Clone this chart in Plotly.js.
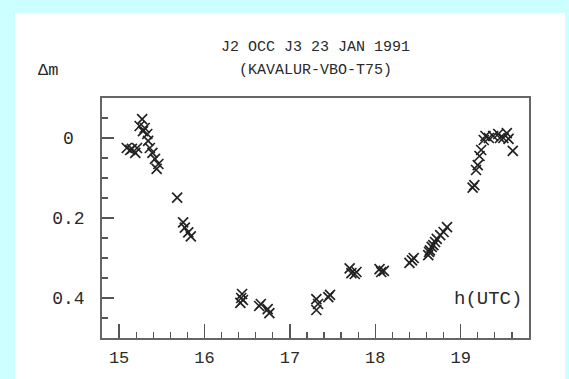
<!DOCTYPE html>
<html>
<head>
<meta charset="utf-8">
<script src="https://cdn.plot.ly/plotly-3.0.1.min.js"></script>
<style>
  html, body { margin:0; padding:0; background:#ccffff; width:569px; height:379px; overflow:hidden; }
  #chart { position:absolute; left:15px; top:13px; width:550px; height:366px; background:#ffffff; }
</style>
</head>
<body>
<div id="chart"></div>
<script>
// time in hours UTC
const hours = [
  15.09, 15.13, 15.15, 15.19, 15.21, 15.24, 15.27, 15.28, 15.30, 15.33,
  15.34, 15.36, 15.39, 15.42, 15.44, 15.46, 15.68, 15.75, 15.77, 15.81,
  15.84, 16.42, 16.43, 16.44, 16.45, 16.64, 16.66, 16.76, 16.74, 17.31,
  17.31, 17.33, 17.45, 17.47, 17.70, 17.72, 17.76, 17.78, 18.05, 18.07,
  18.10, 18.40, 18.43, 18.45, 18.62, 18.63, 18.64, 18.66, 18.68, 18.70,
  18.72, 18.76, 18.80, 18.84, 19.14, 19.16, 19.18, 19.20, 19.22, 19.24,
  19.27, 19.29, 19.33, 19.38, 19.44, 19.46, 19.50, 19.54, 19.56, 19.61
];
// magnitude drop
const deltaM = [
  0.025, 0.030, 0.027, 0.037, 0.025, -0.030, -0.047, -0.017, -0.025, -0.010,
  0.007, 0.025, 0.037, 0.052, 0.077, 0.065, 0.149, 0.211, 0.224, 0.236,
  0.246, 0.412, 0.400, 0.390, 0.405, 0.420, 0.415, 0.438, 0.428, 0.403,
  0.430, 0.415, 0.398, 0.392, 0.326, 0.338, 0.340, 0.335, 0.328, 0.335,
  0.332, 0.312, 0.306, 0.300, 0.293, 0.285, 0.281, 0.272, 0.268, 0.260,
  0.252, 0.243, 0.235, 0.223, 0.124, 0.118, 0.080, 0.068, 0.045, 0.030,
  0.005, -0.005, 0.000, -0.005, -0.010, 0.000, 0.000, -0.012, 0.002, 0.032
];
const yTickVals = [0, 0.2, 0.4];
const yTickText = ["\u00a00\u00a0", "0.2", "0.4"];
const titleLine1 = "J2 OCC J3 23 JAN 1991";
const titleLine2 = "(KAVALUR-VBO-T75)";
const yLabel = "Δm";
const xLabel = "h(UTC)";

const FONT = "Liberation Mono, DejaVu Sans Mono, monospace";
const TXT = "#2a2a2a";

const trace = {
  x: hours, y: deltaM, type: "scatter", mode: "markers",
  marker: { symbol: "x-thin", size: 10, color: "#222", line: { color: "#222", width: 1.7 } },
  hoverinfo: "skip"
};

const layout = {
  width: 550, height: 366,
  margin: { l: 87, r: 36, t: 85, b: 41 },
  paper_bgcolor: "#ffffff", plot_bgcolor: "#ffffff",
  showlegend: false,
  font: { family: FONT, size: 17, color: TXT },
  title: { text: titleLine1, x: 0.5, xref: "paper", xanchor: "center",
           y: 1 - 33/366, yref: "container", yanchor: "middle",
           font: { family: FONT, size: 15, color: TXT } },
  xaxis: {
    range: [14.8, 19.8], tick0: 15, dtick: 1, ticks: "inside", ticklen: 14, tickwidth: 1.5,
    tickcolor: "#555", showline: true, linecolor: "#666", linewidth: 1.8, mirror: true,
    showgrid: false, zeroline: false,
    minor: { dtick: 0.2, ticks: "inside", ticklen: 6, tickwidth: 1.3, tickcolor: "#555", showgrid: false },
    tickfont: { family: FONT, size: 17, color: TXT }, ticklabelstandoff: 3
  },
  yaxis: {
    range: [0.5, -0.1], tickmode: "array", tickvals: yTickVals, ticktext: yTickText,
    ticks: "inside", ticklen: 12, tickwidth: 1.5,
    tickcolor: "#555", showline: true, linecolor: "#666", linewidth: 1.8, mirror: true,
    showgrid: false, zeroline: false,
    minor: { tick0: 0, dtick: 0.05, ticks: "inside", ticklen: 6, tickwidth: 1.3, tickcolor: "#555", showgrid: false },
    tickfont: { family: FONT, size: 18, color: TXT }, ticklabelstandoff: 12
  },
  annotations: [
    { text: titleLine2, xref: "paper", yref: "paper", x: 0.5, y: 1, yshift: 28,
      xanchor: "center", yanchor: "middle", showarrow: false,
      font: { family: FONT, size: 15, color: TXT } },
    { text: yLabel, xref: "paper", yref: "paper", x: 0, y: 1, xshift: -54, yshift: 28,
      xanchor: "center", yanchor: "middle", showarrow: false,
      font: { family: FONT, size: 17, color: TXT } },
    { text: xLabel, xref: "paper", yref: "paper", x: 1, y: 0.162, xshift: -5,
      xanchor: "right", yanchor: "middle", showarrow: false,
      font: { family: FONT, size: 19, color: TXT } }
  ]
};

Plotly.newPlot("chart", [trace], layout, { staticPlot: true, displayModeBar: false });
</script>
</body>
</html>
